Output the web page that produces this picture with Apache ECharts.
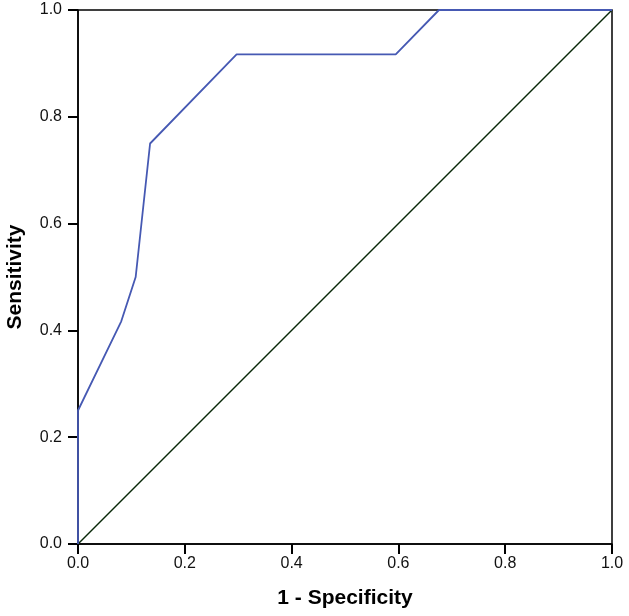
<!DOCTYPE html>
<html>
<head>
<meta charset="utf-8">
<script src="https://cdn.jsdelivr.net/npm/echarts@6/dist/echarts.min.js"></script>
<style>
  html, body { margin: 0; padding: 0; background: #fff; }
  #chart { width: 629px; height: 616px; }
</style>
</head>
<body>
<div id="chart"></div>
<script>
// ROC curve points (1 - specificity, sensitivity)
var fpr = [0, 0, 0.081, 0.108, 0.135, 0.297, 0.595, 0.676, 1];
var tpr = [0, 0.25, 0.417, 0.5, 0.75, 0.917, 0.917, 1, 1];
// reference line
var refX = [0, 1];
var refY = [0, 1];
var tickLabels = ['0.0', '0.2', '0.4', '0.6', '0.8', '1.0'];

var chart = echarts.init(document.getElementById('chart'));

function pairs(xs, ys) {
  return xs.map(function (x, i) { return [x, ys[i]]; });
}

var axisCommon = {
  type: 'value',
  min: 0,
  max: 1,
  interval: 0.2,
  nameLocation: 'middle',
  nameTextStyle: {
    fontFamily: 'Liberation Sans',
    fontWeight: 'bold',
    fontSize: 21,
    color: '#000'
  },
  axisLine: { show: true, lineStyle: { color: '#000', width: 1.5 } },
  axisTick: { show: true, length: 10, lineStyle: { color: '#000', width: 2 } },
  axisLabel: {
    fontFamily: 'Liberation Sans',
    fontSize: 16,
    color: '#111',
    formatter: function (v) { return tickLabels[Math.round(v * 5)]; }
  },
  splitLine: { show: false }
};

chart.setOption({
  animation: false,
  grid: {
    left: 78,
    right: 17,
    top: 10,
    bottom: 72,
    outerBoundsMode: 'none',
    show: true,
    borderColor: '#000',
    borderWidth: 1.5
  },
  xAxis: Object.assign({}, axisCommon, {
    name: '1 - Specificity',
    nameGap: 44,
    axisLabel: Object.assign({}, axisCommon.axisLabel, { margin: 12 })
  }),
  yAxis: Object.assign({}, axisCommon, {
    name: 'Sensitivity',
    nameGap: 52,
    axisLabel: Object.assign({}, axisCommon.axisLabel, { margin: 16 })
  }),
  series: [
    {
      type: 'line',
      data: pairs(refX, refY),
      symbol: 'none',
      lineStyle: { color: '#082808', width: 1.5 }
    },
    {
      type: 'line',
      data: pairs(fpr, tpr),
      symbol: 'none',
      lineStyle: { color: '#4659b3', width: 1.8 }
    }
  ]
});
</script>
</body>
</html>
